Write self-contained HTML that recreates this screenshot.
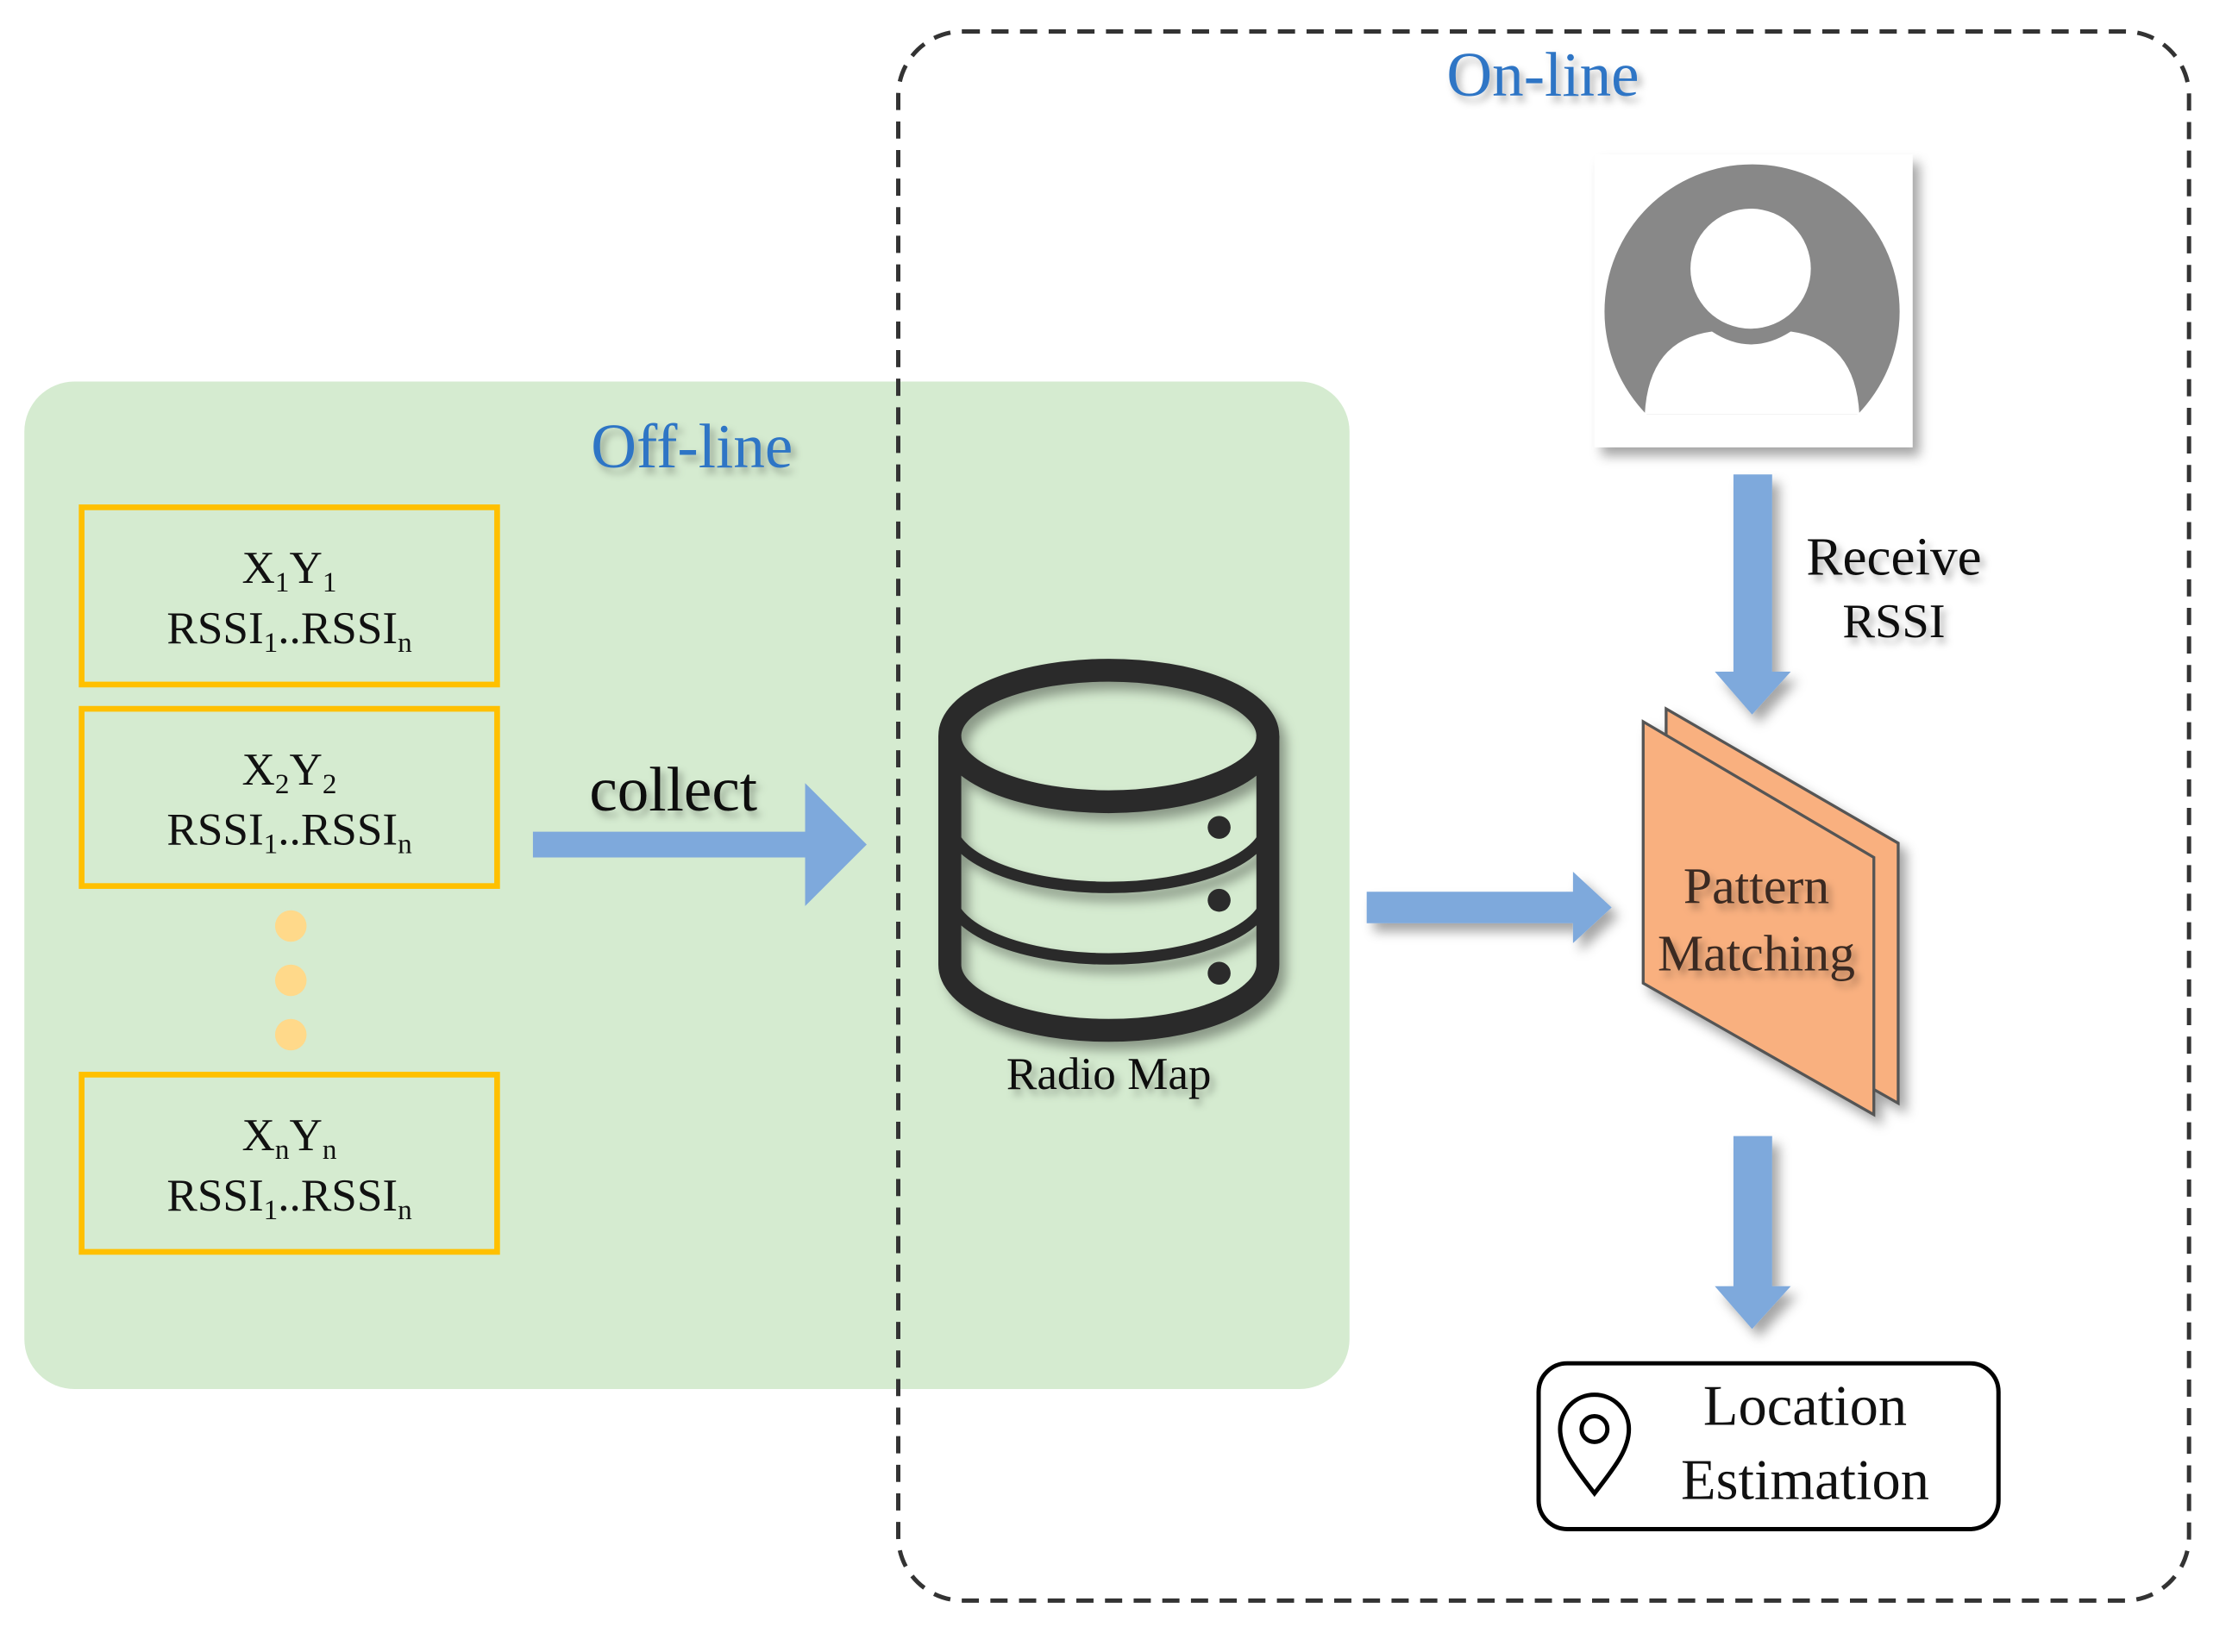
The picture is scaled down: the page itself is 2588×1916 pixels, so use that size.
<!DOCTYPE html>
<html><head><style>html,body{margin:0;padding:0;background:#fff}svg{display:block}</style></head>
<body>
<svg width="2588" height="1916" viewBox="0 0 1558 1156" preserveAspectRatio="none" xmlns="http://www.w3.org/2000/svg" font-family="'Liberation Serif', serif">
<defs>
<filter id="sh" x="-20%" y="-20%" width="150%" height="150%"><feDropShadow dx="5" dy="6" stdDeviation="4" flood-color="#000" flood-opacity="0.35"/></filter>
<filter id="ts" x="-10%" y="-20%" width="130%" height="160%"><feDropShadow dx="3" dy="4" stdDeviation="2.5" flood-color="#000" flood-opacity="0.3"/></filter>
<clipPath id="pc"><rect x="1100" y="100" width="250" height="190"/></clipPath>
</defs>
<rect x="17" y="267" width="925" height="705" rx="35" fill="#d5ebd0"/>
<rect x="627" y="22" width="901" height="1098" rx="45" fill="none" stroke="#333" stroke-width="3" stroke-dasharray="12 8"/>
<text x="1077" y="67" font-size="44" fill="#2f75c5" text-anchor="middle" filter="url(#ts)">On-line</text>
<text x="483" y="327" font-size="44" fill="#2f75c5" text-anchor="middle" filter="url(#ts)">Off-line</text>
<g fill="none" stroke="#ffc000" stroke-width="4">
<rect x="57" y="355" width="290" height="124"/><rect x="57" y="496" width="290" height="124"/><rect x="57" y="752" width="290" height="124"/>
</g>
<g font-size="32" fill="#111" text-anchor="middle">
<text x="202" y="408">X<tspan font-size="20" dy="6">1</tspan><tspan dy="-6">Y</tspan><tspan font-size="20" dy="6">1</tspan></text>
<text x="202" y="450">RSSI<tspan font-size="20" dy="6">1</tspan><tspan dy="-6">..RSSI</tspan><tspan font-size="20" dy="6">n</tspan></text>
<text x="202" y="549">X<tspan font-size="20" dy="6">2</tspan><tspan dy="-6">Y</tspan><tspan font-size="20" dy="6">2</tspan></text>
<text x="202" y="591">RSSI<tspan font-size="20" dy="6">1</tspan><tspan dy="-6">..RSSI</tspan><tspan font-size="20" dy="6">n</tspan></text>
<text x="202" y="805">X<tspan font-size="20" dy="6">n</tspan><tspan dy="-6">Y</tspan><tspan font-size="20" dy="6">n</tspan></text>
<text x="202" y="847">RSSI<tspan font-size="20" dy="6">1</tspan><tspan dy="-6">..RSSI</tspan><tspan font-size="20" dy="6">n</tspan></text>
</g>
<g fill="#ffd98a"><circle cx="203" cy="648" r="11"/><circle cx="203" cy="686" r="11"/><circle cx="203" cy="724" r="11"/></g>
<text x="470" y="567" font-size="44" fill="#111" text-anchor="middle" filter="url(#ts)">collect</text>
<polygon points="372,582 562,582 562,548 605,591 562,634 562,600 372,600" fill="#7ea9dc"/>
<g filter="url(#sh)" stroke="#2b2b2b" stroke-width="16" fill="none">
<ellipse cx="774" cy="515" rx="111" ry="46"/>
<path d="M663,515 V675 A111,46 0 0 0 885,675 V515"/>
<path d="M663,575 A111,46 0 0 0 885,575" stroke-width="8"/>
<path d="M663,625 A111,46 0 0 0 885,625" stroke-width="8"/>
</g>
<g fill="#2b2b2b"><circle cx="851" cy="579" r="8"/><circle cx="851" cy="630" r="8"/><circle cx="851" cy="681" r="8"/></g>
<text x="774" y="762" font-size="32" fill="#111" text-anchor="middle" filter="url(#ts)">Radio Map</text>
<polygon points="954,624 1098,624 1098,610 1125,635 1098,660 1098,646 954,646" fill="#7ea9dc" filter="url(#sh)"/>
<rect x="1113" y="108" width="222" height="205" fill="#fff" filter="url(#sh)"/>
<g clip-path="url(#pc)">
<circle cx="1223" cy="218" r="103" fill="#888"/>
<circle cx="1222" cy="188" r="42" fill="#fff"/>
<path d="M1148,292 Q1150,238 1195,232 Q1222,250 1250,232 Q1296,238 1298,292 Z" fill="#fff"/>
</g>
<polygon points="1210,332 1237,332 1237,470 1250,470 1223,500 1197,470 1210,470" fill="#7ea9dc" filter="url(#sh)"/>
<text x="1322" y="402" font-size="38" fill="#111" text-anchor="middle" filter="url(#ts)">Receive</text>
<text x="1322" y="446" font-size="34" fill="#111" text-anchor="middle" filter="url(#ts)">RSSI</text>
<g filter="url(#sh)" stroke="#555" stroke-width="2" fill="#f9b07f">
<polygon points="1163,496 1325,590 1325,772 1163,680"/>
<polygon points="1147,505 1308,600 1308,780 1147,688"/>
</g>
<text x="1226" y="632" font-size="36" fill="#3a2a20" text-anchor="middle" filter="url(#ts)">Pattern</text>
<text x="1226" y="679" font-size="36" fill="#3a2a20" text-anchor="middle" filter="url(#ts)">Matching</text>
<polygon points="1210,795 1237,795 1237,900 1250,900 1223,930 1197,900 1210,900" fill="#7ea9dc" filter="url(#sh)"/>
<rect x="1074" y="954" width="321" height="116" rx="20" fill="#fff" stroke="#000" stroke-width="3"/>
<path d="M1113,1045 C1100,1028 1089,1015 1089,1000 A24,24 0 0 1 1137,1000 C1137,1015 1126,1028 1113,1045 Z" fill="none" stroke="#000" stroke-width="3"/>
<circle cx="1113" cy="1000" r="9" fill="none" stroke="#000" stroke-width="3"/>
<text x="1260" y="997" font-size="40" fill="#111" text-anchor="middle">Location</text>
<text x="1260" y="1049" font-size="40" fill="#111" text-anchor="middle">Estimation</text>
</svg>
</body></html>
